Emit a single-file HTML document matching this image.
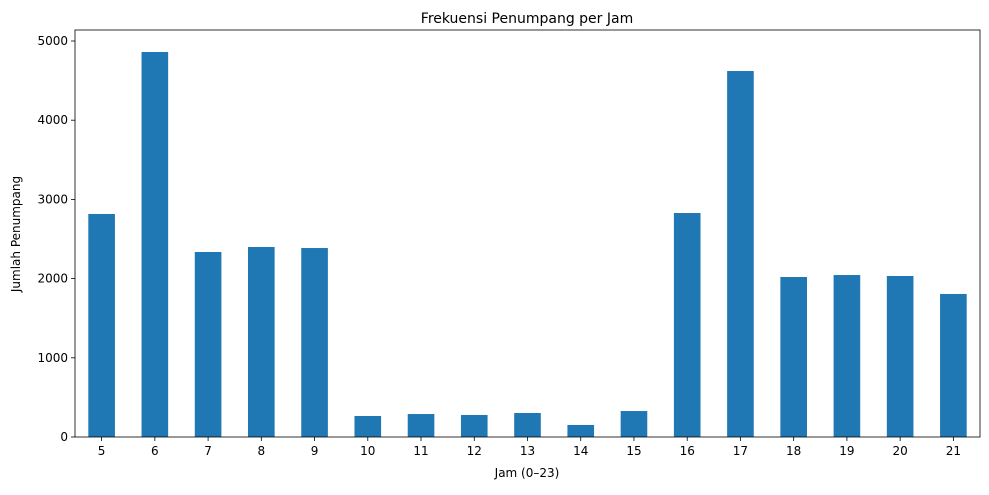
<!DOCTYPE html>
<html><head><meta charset="utf-8"><style>
body{margin:0;background:#fff;font-family:"Liberation Sans","DejaVu Sans",sans-serif;}
svg text{font-family:"DejaVu Sans","Liberation Sans",sans-serif;fill:#000;}
</style></head><body>
<svg id="chart" width="989" height="490">
<text x="527" y="23" font-size="14" text-anchor="middle">Frekuensi Penumpang per Jam</text>
<text x="527" y="477" font-size="12" text-anchor="middle">Jam (0–23)</text>
<text x="0" y="0" font-size="12" text-anchor="middle" transform="translate(20,234) rotate(-90)">Jumlah Penumpang</text>
<g id="bars"></g><g id="axes"></g>
</svg>
<script>
const categories=["5","6","7","8","9","10","11","12","13","14","15","16","17","18","19","20","21"];
const values=[2816,4861,2336,2399,2386,265,290,278,303,152,328,2828,4621,2020,2045,2033,1806];
const yTicks=[0,1000,2000,3000,4000,5000];
const L=75,R=980,T=30,B=437;
const slot=(R-L)/categories.length;
function xC(i){return L+slot*(i+0.5);}
function y(v){return B-v*(B-41)/5000;}
const ns="http://www.w3.org/2000/svg";
const bars=document.getElementById('bars'),axes=document.getElementById('axes');
function mk(tag,attrs,parent){const e=document.createElementNS(ns,tag);for(const k in attrs)e.setAttribute(k,attrs[k]);parent.appendChild(e);return e;}
values.forEach((v,i)=>{
 const r=mk('rect',{x:xC(i)-slot/4,y:y(v),width:slot/2,height:B-y(v),fill:'#1f77b4'},bars);
 
 
 const t=mk('line',{x1:xC(i),x2:xC(i),y1:B,y2:B+4,stroke:'#000','stroke-width':0.8},axes);
 const lb=mk('text',{x:xC(i),y:B+18,'font-size':12,'text-anchor':'middle'},axes);
 lb.textContent=categories[i];
 
 
});
yTicks.forEach(v=>{
 mk('line',{x1:L-4,x2:L,y1:y(v),y2:y(v),stroke:'#000','stroke-width':0.8},axes);
 const lb=mk('text',{x:L-7,y:y(v)+4,'font-size':12,'text-anchor':'end'},axes);
 lb.textContent=v;
 
 
});
const f=mk('rect',{x:L,y:T,width:R-L,height:B-T,fill:'none',stroke:'#000','stroke-width':0.8},axes);


</script>
</body></html>
